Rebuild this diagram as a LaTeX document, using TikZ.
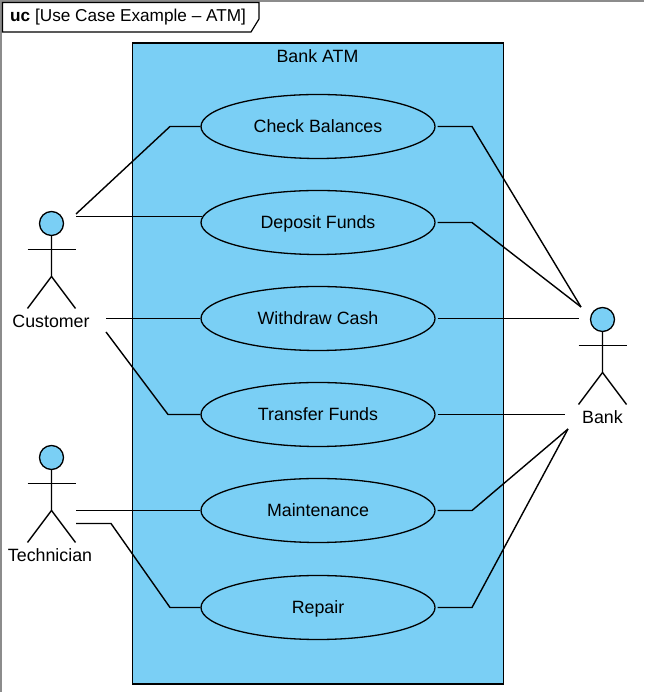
\documentclass[tikz,border=0pt]{standalone}
\usepackage{fontspec}
\setmainfont{Liberation Sans}
\usetikzlibrary{positioning, shapes.geometric}
\definecolor{ucblue}{RGB}{122,207,245}
\tikzset{
  usecase/.style={ellipse, draw, fill=ucblue, line width=1.3pt, minimum width=234pt, minimum height=64pt, inner sep=0pt, text height=15pt, text depth=2pt},
  head/.style={circle, draw, fill=ucblue, line width=1.3pt, minimum size=24pt, inner sep=0pt},
  actorname/.style={inner sep=0pt},
  link/.style={line width=1.4pt}
}
% one stick figure below its head node
\newcommand{\stickman}[1]{
  \draw[link] (#1.south) -- ([yshift=-53pt]#1.center) -- ([xshift=-24pt,yshift=-85pt]#1.center);
  \draw[link] ([yshift=-53pt]#1.center) -- ([xshift=24pt,yshift=-85pt]#1.center);
  \draw[link] ([xshift=-24pt,yshift=-26pt]#1.center) -- ([xshift=24pt,yshift=-26pt]#1.center);
}
\begin{document}
\begin{tikzpicture}[x=1pt,y=1pt,font=\fontsize{17.8}{20}\selectfont,node distance=96pt]
  \useasboundingbox (0,0) rectangle (644,692);

% define the frame
  \draw[line width=1.2pt, draw=black!45] (1,0) -- (1,691) -- (644,691);
  \draw[line width=1.2pt, fill=white] (2.5,689.5) -- (259,689.5) -- (259,673) -- (251,660) -- (2.5,660) -- cycle;
  \node[anchor=west, inner sep=0pt, font=\fontsize{17.2}{20}\selectfont] (title) at (10,674.5) {\textbf{uc} [Use Case Example – ATM]};

% define the system box
  \node[draw, fill=ucblue, line width=1.3pt, minimum width=371pt, minimum height=641pt, inner sep=0pt] (atm) at (318,328.5) {};
  \node[inner sep=0pt] (atmname) at (317.5,636) {Bank ATM};

% define the use cases
  \node[usecase] (check) at (318,565.5) {Check Balances};
  \node[usecase] (deposit)  [below of=check]    {Deposit Funds};
  \node[usecase] (withdraw) [below of=deposit]  {Withdraw Cash};
  \node[usecase] (transfer) [below of=withdraw] {Transfer Funds};
  \node[usecase] (maint)    [below of=transfer] {Maintenance};
  \node[usecase] (repair)   [below of=maint, yshift=-1pt] {Repair};

% define the actors
  \node[head] (customer) at (51.5,468.5) {};
  \node[head] (technician) at (51.5,234.5) {};
  \node[head] (bank) at (602.5,372.5) {};
  \stickman{customer}
  \stickman{technician}
  \stickman{bank}
  \node[actorname] (customername) at (51,371) {Customer};
  \node[actorname] (technicianname) at (50,137) {Technician};
  \node[actorname] (bankname) at (602.5,275) {Bank};

% define the free ends of the links
  \coordinate (c1) at (76,478);
  \coordinate (c2) at (76,475.5);
  \coordinate (c3) at (106,373.5);
  \coordinate (c4) at (106,360);
  \coordinate (t1) at (76,181.5);
  \coordinate (t2) at (76,168.5);
  \coordinate (b1) at (581,385);
  \coordinate (b2) at (579,373.5);
  \coordinate (b3) at (565,277.5);
  \coordinate (b4) at (568,263);

% define the links
  \draw[link] (c1) -- (170,565.5) -- (check.west);
  \draw[link] (c2) -- ([xshift=2pt]deposit.west |- c2);
  \draw[link] (c3) -- (withdraw.west);
  \draw[link] (c4) -- (168,277.5) -- (transfer.west);
  \draw[link] (t1) -- (maint.west);
  \draw[link] (t2) -- (111,168.5) -- (170,84.5) -- (repair.west);
  \draw[link] ([xshift=2pt]check.east) -- (472,565.5) -- (b1);
  \draw[link] ([xshift=2pt]deposit.east) -- (472,469.5) -- (b1);
  \draw[link] ([xshift=2pt]withdraw.east) -- (b2);
  \draw[link] ([xshift=2pt]transfer.east) -- (b3);
  \draw[link] ([xshift=2pt]maint.east) -- (472,181.5) -- (b4);
  \draw[link] ([xshift=2pt]repair.east) -- (472,84.5) -- (b4);
\end{tikzpicture}
\end{document}
